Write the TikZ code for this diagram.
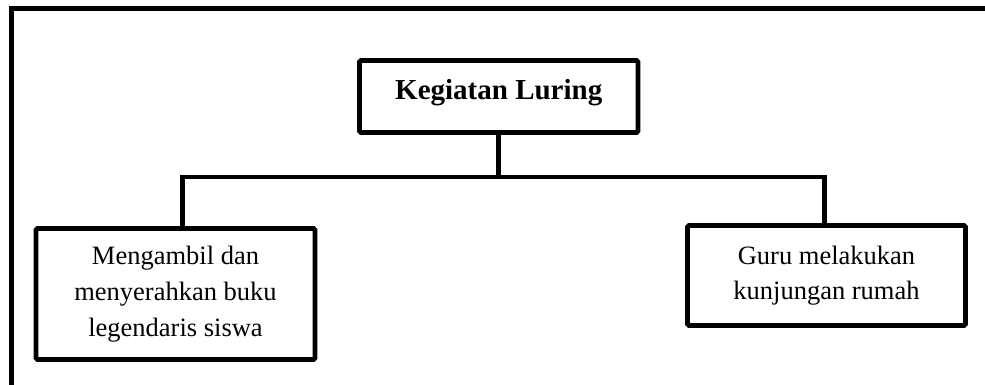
\documentclass[tikz,border=0pt]{standalone}
\usepackage{fontspec}
\setmainfont{Liberation Serif}
\begin{document}
\begin{tikzpicture}[x=1pt,y=-1pt,
  thick line/.style={line width=4.8pt},
  boxnode/.style={draw, line width=4.8pt, rounded corners=1.5pt, fill=white,
    align=center, inner sep=0pt, font=\fontsize{26.5}{36}\selectfont},
  conn/.style={line width=4.8pt, line join=miter}]
\useasboundingbox (0,0) rectangle (985,385);
\fill[white] (0,0) rectangle (985,385);
% outer frame (left and top sides)
\draw[thick line, line join=miter] (11.5,400) -- (11.5,8.5) -- (1000,8.5);
% nodes
\node[boxnode, minimum width=278.5pt, minimum height=72pt,
      font=\fontsize{29}{34}\selectfont\bfseries, text height=19.8pt, text depth=12.8pt]
  (top) at (498.75,96.5) {Kegiatan Luring};
\node[boxnode, minimum width=279pt, minimum height=131pt]
  (left) at (175.5,294) {Mengambil dan\\menyerahkan buku\\legendaris siswa};
\node[boxnode, minimum width=278pt, minimum height=100pt, font=\fontsize{26.5}{35}\selectfont]
  (right) at (826.5,275.5) {Guru melakukan\\kunjungan rumah};
% junction coordinates
\coordinate (jl) at (182.5,177);
\coordinate (jr) at (824.5,177);
% connectors
\draw[conn] (top.south) -- (top.south |- jl);
\draw[conn] (jl |- left.north) -- (jl) -- (jr) -- (jr |- right.north);
\end{tikzpicture}
\end{document}
